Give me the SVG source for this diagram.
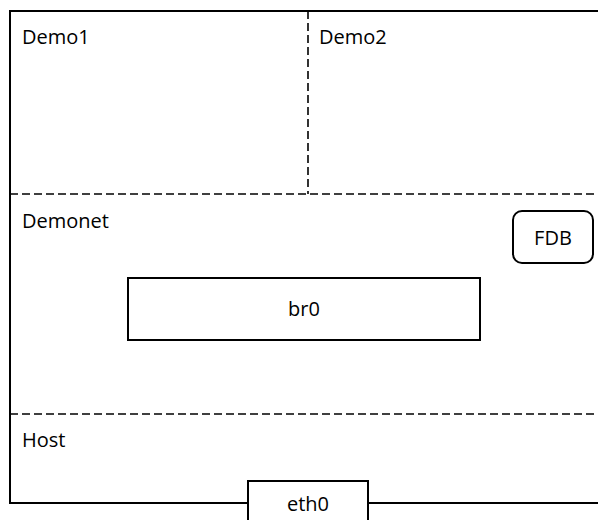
<svg xmlns="http://www.w3.org/2000/svg" width="598" height="520" viewBox="0 0 598 520">
<style>
.solid{fill:none;stroke:#000;stroke-width:2}
.dash{fill:none;stroke:#000;stroke-width:1.6;stroke-dasharray:8 4}
.box{fill:#fff;stroke:#000;stroke-width:2}
text{font-family:"Open Sans","Liberation Sans",sans-serif;font-size:20px;fill:#000}
.c{text-anchor:middle}
</style>
<rect width="598" height="520" fill="#fff"/>
<g id="outline">
<path class="solid" d="M598 11 H10 V503 H598"/>
<path class="dash" d="M10 194 H598"/>
<path class="dash" d="M308 11 V194"/>
<path class="dash" d="M10 414 H598"/>
</g>
<g id="demo1"><text x="22" y="44">Demo1</text></g>
<g id="demo2"><text x="319" y="44">Demo2</text></g>
<g id="demonet"><text x="22" y="228">Demonet</text></g>
<g id="host"><text x="22" y="447">Host</text></g>
<g id="fdb">
<rect class="box" x="513" y="211" width="80" height="52" rx="9"/>
<text class="c" x="553" y="245">FDB</text>
</g>
<g id="br0">
<rect class="box" x="128" y="278" width="352" height="62"/>
<text class="c" x="304" y="316">br0</text>
</g>
<g id="eth0">
<rect class="box" x="248" y="481" width="120" height="45"/>
<text class="c" x="308" y="511">eth0</text>
</g>
<g id="connectors"></g>
</svg>
